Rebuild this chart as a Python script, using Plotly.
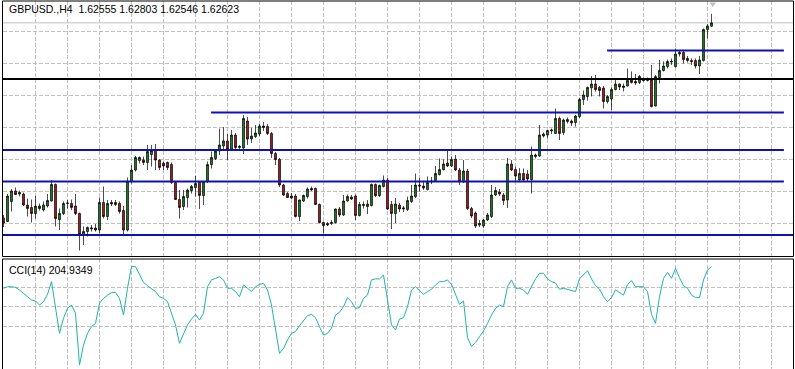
import plotly.graph_objects as go

bars = list(range(178))

open_ = [
1.5872, 1.5865, 1.5905, 1.5926, 1.5920, 1.5920, 1.5898, 1.5893, 1.5881, 1.5896,
1.5888, 1.5896, 1.5906, 1.5939, 1.5869, 1.5881, 1.5901, 1.5901, 1.5896, 1.5881,
1.5838, 1.5845, 1.5850, 1.5852, 1.5848, 1.5903, 1.5875, 1.5900, 1.5903, 1.5901,
1.5887, 1.5848, 1.5945, 1.5968, 1.5987, 1.5988, 1.5983, 1.5999, 1.6007, 1.5988,
1.5982, 1.5983, 1.5979, 1.5943, 1.5909, 1.5895, 1.5913, 1.5927, 1.5933, 1.5944,
1.5917, 1.5945, 1.5979, 1.5991, 1.6006, 1.6016, 1.6026, 1.6010, 1.6038, 1.6013,
1.6012, 1.6066, 1.6030, 1.6035, 1.6040, 1.6056, 1.6055, 1.6041, 1.6001, 1.5989,
1.5938, 1.5921, 1.5916, 1.5916, 1.5875, 1.5906, 1.5915, 1.5931, 1.5931, 1.5899,
1.5863, 1.5861, 1.5861, 1.5863, 1.5890, 1.5878, 1.5906, 1.5914, 1.5916, 1.5877,
1.5897, 1.5895, 1.5897, 1.5939, 1.5917, 1.5935, 1.5948, 1.5899, 1.5881, 1.5898,
1.5890, 1.5889, 1.5905, 1.5915, 1.5938, 1.5936, 1.5929, 1.5944, 1.5947, 1.5959,
1.5969, 1.5982, 1.5976, 1.5990, 1.5968, 1.5944, 1.5966, 1.5891, 1.5882, 1.5858,
1.5856, 1.5868, 1.5875, 1.5918, 1.5924, 1.5918, 1.5908, 1.5980, 1.5969, 1.5948,
1.5961, 1.5960, 1.5949, 1.5995, 1.5996, 1.6036, 1.6038, 1.6046, 1.6041, 1.6071,
1.6043, 1.6065, 1.6066, 1.6063, 1.6075, 1.6109, 1.6115, 1.6132, 1.6140, 1.6133,
1.6132, 1.6105, 1.6110, 1.6129, 1.6140, 1.6133, 1.6136, 1.6148, 1.6145, 1.6143,
1.6149, 1.6147, 1.6148, 1.6096, 1.6153, 1.6167, 1.6175, 1.6184, 1.6175, 1.6200,
1.6203, 1.6191, 1.6187, 1.6187, 1.6176, 1.6187, 1.6249, 1.62555]

high = [
1.5878, 1.5920, 1.5930, 1.5933, 1.5927, 1.5923, 1.5911, 1.5909, 1.5916, 1.5901,
1.5905, 1.5920, 1.5948, 1.5941, 1.5891, 1.5905, 1.5908, 1.5909, 1.5920, 1.5883,
1.5855, 1.5855, 1.5858, 1.5860, 1.5913, 1.5935, 1.5908, 1.5908, 1.5908, 1.5905,
1.5896, 1.5953, 1.5978, 1.5996, 1.5995, 1.5995, 1.6018, 1.6018, 1.6020, 1.5989,
1.5985, 1.5985, 1.5983, 1.5945, 1.5928, 1.5928, 1.5931, 1.5938, 1.5956, 1.5945,
1.5946, 1.5985, 1.6005, 1.6008, 1.6051, 1.6054, 1.6040, 1.6048, 1.6042, 1.6018,
1.6078, 1.6074, 1.6052, 1.6058, 1.6060, 1.6064, 1.6060, 1.6044, 1.6004, 1.5992,
1.5940, 1.5924, 1.5922, 1.5920, 1.5909, 1.5919, 1.5933, 1.5935, 1.5933, 1.5901,
1.5865, 1.5864, 1.5868, 1.5891, 1.5894, 1.5918, 1.5919, 1.5918, 1.5919, 1.5904,
1.5905, 1.5908, 1.5941, 1.5941, 1.5939, 1.5957, 1.5952, 1.5906, 1.5912, 1.5902,
1.5896, 1.5915, 1.5938, 1.5961, 1.5952, 1.5945, 1.5955, 1.5954, 1.5976, 1.5991,
1.5989, 1.6007, 1.5995, 1.5998, 1.5972, 1.5988, 1.5970, 1.5894, 1.5885, 1.5868,
1.5870, 1.5882, 1.5938, 1.5934, 1.5930, 1.5922, 1.5992, 1.5988, 1.5975, 1.5972,
1.5971, 1.5968, 1.6015, 1.6001, 1.6058, 1.6043, 1.6048, 1.6051, 1.6091, 1.6075,
1.6071, 1.6073, 1.6069, 1.6078, 1.6112, 1.6127, 1.6135, 1.6156, 1.6158, 1.6136,
1.6136, 1.6118, 1.6133, 1.6148, 1.6141, 1.6141, 1.6171, 1.6165, 1.6160, 1.6158,
1.6153, 1.6153, 1.6178, 1.6158, 1.6188, 1.6185, 1.6189, 1.6191, 1.6211, 1.6208,
1.6208, 1.6196, 1.6191, 1.6191, 1.6196, 1.6251, 1.6260, 1.62803]

low = [
1.5854, 1.5864, 1.5885, 1.5918, 1.5915, 1.5896, 1.5875, 1.5863, 1.5871, 1.5887,
1.5885, 1.5893, 1.5905, 1.5855, 1.5848, 1.5878, 1.5891, 1.5888, 1.5878, 1.5807,
1.5818, 1.5835, 1.5845, 1.5845, 1.5841, 1.5871, 1.5868, 1.5896, 1.5896, 1.5881,
1.5838, 1.5845, 1.5941, 1.5965, 1.5981, 1.5978, 1.5968, 1.5975, 1.5968, 1.5968,
1.5968, 1.5968, 1.5940, 1.5908, 1.5871, 1.5888, 1.5893, 1.5921, 1.5915, 1.5890,
1.5898, 1.5942, 1.5971, 1.5988, 1.5998, 1.6008, 1.5988, 1.6006, 1.6010, 1.6008,
1.6000, 1.6018, 1.6022, 1.6032, 1.6036, 1.6046, 1.6038, 1.5992, 1.5978, 1.5934,
1.5916, 1.5912, 1.5910, 1.5873, 1.5866, 1.5904, 1.5911, 1.5926, 1.5898, 1.5861,
1.5841, 1.5856, 1.5858, 1.5861, 1.5874, 1.5876, 1.5905, 1.5908, 1.5868, 1.5875,
1.5891, 1.5880, 1.5895, 1.5914, 1.5914, 1.5933, 1.5888, 1.5850, 1.5862, 1.5884,
1.5884, 1.5886, 1.5902, 1.5912, 1.5925, 1.5928, 1.5927, 1.5940, 1.5945, 1.5957,
1.5967, 1.5974, 1.5974, 1.5966, 1.5938, 1.5942, 1.5888, 1.5872, 1.5852, 1.5854,
1.5852, 1.5866, 1.5872, 1.5916, 1.5916, 1.5898, 1.5892, 1.5966, 1.5945, 1.5946,
1.5946, 1.5946, 1.5921, 1.5991, 1.5994, 1.6033, 1.6031, 1.6040, 1.6040, 1.6028,
1.6038, 1.6061, 1.6056, 1.6055, 1.6072, 1.6098, 1.6107, 1.6115, 1.6125, 1.6115,
1.6091, 1.6101, 1.6088, 1.6127, 1.6128, 1.6125, 1.6135, 1.6141, 1.6138, 1.6140,
1.6145, 1.6145, 1.6093, 1.6095, 1.6141, 1.6165, 1.6171, 1.6178, 1.6173, 1.6195,
1.6181, 1.6183, 1.6178, 1.6171, 1.6160, 1.6185, 1.6231, 1.62546]

close = [
1.5862, 1.5916, 1.5926, 1.5919, 1.5923, 1.5898, 1.5891, 1.5881, 1.5896, 1.5891,
1.5898, 1.5907, 1.5939, 1.5871, 1.5881, 1.5901, 1.5902, 1.5893, 1.5881, 1.5839,
1.5845, 1.5853, 1.5852, 1.5848, 1.5903, 1.5875, 1.5901, 1.5903, 1.5899, 1.5885,
1.5848, 1.5945, 1.5968, 1.5993, 1.5993, 1.5983, 1.6005, 1.6007, 1.5988, 1.5973,
1.5976, 1.5973, 1.5943, 1.5909, 1.5893, 1.5915, 1.5928, 1.5935, 1.5941, 1.5917,
1.5945, 1.5979, 1.5993, 1.6006, 1.6018, 1.6026, 1.6010, 1.6038, 1.6013, 1.6015,
1.6071, 1.6030, 1.6036, 1.6042, 1.6056, 1.6053, 1.6041, 1.6001, 1.5989, 1.5938,
1.5918, 1.5913, 1.5912, 1.5875, 1.5908, 1.5917, 1.5930, 1.5928, 1.5899, 1.5863,
1.5857, 1.5858, 1.5863, 1.5890, 1.5878, 1.5906, 1.5915, 1.5910, 1.5877, 1.5899,
1.5899, 1.5900, 1.5939, 1.5917, 1.5937, 1.5948, 1.5890, 1.5881, 1.5900, 1.5890,
1.5892, 1.5907, 1.5916, 1.5938, 1.5936, 1.5932, 1.5943, 1.5946, 1.5961, 1.5969,
1.5980, 1.5976, 1.5989, 1.5968, 1.5944, 1.5966, 1.5891, 1.5876, 1.5856, 1.5861,
1.5868, 1.5878, 1.5918, 1.5927, 1.5920, 1.5907, 1.5980, 1.5968, 1.5956, 1.5961,
1.5948, 1.5950, 1.5998, 1.5998, 1.6038, 1.6040, 1.6047, 1.6048, 1.6071, 1.6041,
1.6068, 1.6069, 1.6062, 1.6076, 1.6109, 1.6118, 1.6133, 1.6140, 1.6129, 1.6127,
1.6105, 1.6115, 1.6129, 1.6140, 1.6134, 1.6136, 1.6147, 1.6143, 1.6142, 1.6155,
1.6147, 1.6149, 1.6095, 1.6155, 1.6167, 1.6176, 1.6185, 1.6185, 1.6200, 1.6203,
1.6189, 1.6187, 1.6185, 1.6176, 1.6188, 1.6249, 1.6256, 1.62623]

cci = [
95, 103, 103, 100, 86, 69, 52, 35, 30, 9,
26, 64, 129, 1, -136, -59, -8, 9, -33, -299,
-196, -136, -102, -85, 18, 43, 60, 72, 74, 43,
-42, 95, 206, 206, 163, 125, 108, 95, 78, 52,
43, 26, -33, -93, -187, -136, -93, -63, -39, -68,
-33, 103, 138, 146, 154, 138, 95, 95, 78, 52,
112, 95, 78, 103, 115, 120, 86, 9, -127, -239,
-213, -170, -136, -127, -97, -68, -45, -39, -56, -102,
-145, -136, -110, -42, -28, 1, 47, 26, -8, -4,
43, 60, 138, 143, 143, 163, 43, -93, -119, -63,
-56, 1, 86, 103, 84, 64, 78, 90, 112, 129,
129, 138, 115, 64, 13, 30, -158, -204, -184, -153,
-124, -85, -42, -8, 9, 1, 103, 138, 95, 95,
86, 64, 103, 143, 172, 172, 143, 129, 122, 90,
95, 88, 83, 78, 143, 163, 185, 143, 108, 91,
52, 26, 47, 86, 72, 60, 115, 134, 103, 103,
103, 78, -39, -85, 52, 146, 177, 146, 197, 149,
108, 95, 60, 47, 47, 138, 189, 204.9349]

symbol_title = "GBPUSD.,H4  1.62555 1.62803 1.62546 1.62623"
cci_title = "CCI(14) 204.9349"

# support / resistance objects drawn on the chart (price, first bar, last bar)
level_prices = [1.6207, 1.6083, 1.6008, 1.5945, 1.5838]
level_first_bar = [150.9, 51.9, -0.5, -0.5, -0.5]
level_last_bar = [195.1, 195.1, 195.1, 195.1, 198.0]
hline_price = 1.6150
bid_price = close[-1]

grid_prices = [1.62446, 1.6181, 1.6117, 1.60532, 1.59894, 1.5926, 1.58616]
grid_bars = list(range(8, 193, 8))
cci_levels = [-100, 0, 100]

W, H = 795, 369
def px(xp):
    return xp / W
def py(yp):
    return 1 - yp / H

X_L, X_R = 2.5, 793.5
MAIN_T, MAIN_B = 1.0, 256.5
CCI_T = 259.0

x_range = [(X_L - 3.5) / 4, (X_R - 3.5) / 4]
price_range = [1.6308 - 0.0002 * MAIN_B, 1.6308 - 0.0002 * MAIN_T]
cci_range = [(306.8 - H) / 0.195, (306.8 - CCI_T) / 0.195]

GRID = "#c0c0c0"
BULL = "#1f7a1f"
BEAR = "#a01e1e"
BLUE = "#1010b8"

fig = go.Figure()

fig.add_trace(go.Candlestick(
    x=bars, open=open_, high=high, low=low, close=close,
    increasing=dict(line=dict(color="black", width=0.7), fillcolor=BULL),
    decreasing=dict(line=dict(color="black", width=0.7), fillcolor=BEAR),
    whiskerwidth=0, xaxis="x", yaxis="y", showlegend=False, hoverinfo="skip"))

fig.add_trace(go.Scatter(
    x=bars, y=cci, mode="lines", line=dict(color="#20b2aa", width=1),
    xaxis="x2", yaxis="y2", showlegend=False, hoverinfo="skip"))

axis_common = dict(showticklabels=False, zeroline=False, showline=False,
                   gridcolor=GRID, gridwidth=1, griddash="4px,2px", fixedrange=True)

fig.update_layout(
    width=W, height=H, margin=dict(l=0, r=0, t=0, b=0),
    paper_bgcolor="white", plot_bgcolor="white",
    showlegend=False, hovermode=False, boxgap=0.3,
    xaxis=dict(domain=[px(X_L), px(X_R)], range=x_range, anchor="y",
               tickvals=grid_bars, ticks="", rangeslider=dict(visible=False), **axis_common),
    yaxis=dict(domain=[py(MAIN_B), py(MAIN_T)], range=price_range, anchor="x",
               side="right", tickvals=grid_prices, ticks="outside", ticklen=2,
               tickcolor="black", **axis_common),
    xaxis2=dict(domain=[px(X_L), px(X_R)], range=x_range, anchor="y2",
                tickvals=grid_bars, ticks="", **axis_common),
    yaxis2=dict(domain=[0, py(CCI_T)], range=cci_range, anchor="x2",
                side="right", tickvals=cci_levels, ticks="outside", ticklen=2,
                tickcolor="black", **axis_common),
)

shapes = []
# bid line
shapes.append(dict(type="line", xref="paper", yref="y", x0=px(X_L), x1=px(X_R),
                   y0=bid_price, y1=bid_price, line=dict(color=GRID, width=1), layer="below"))
# horizontal black line
shapes.append(dict(type="line", xref="paper", yref="y", x0=px(X_L), x1=px(X_R),
                   y0=hline_price, y1=hline_price, line=dict(color="black", width=2), layer="above"))
for p, a, b in zip(level_prices, level_first_bar, level_last_bar):
    shapes.append(dict(type="line", xref="x", yref="y", x0=a, x1=b, y0=p, y1=p,
                       line=dict(color=BLUE, width=2), layer="above"))
# panel borders
shapes.append(dict(type="rect", xref="paper", yref="paper", x0=px(X_L), x1=px(X_R),
                   y0=py(MAIN_B), y1=py(MAIN_T), line=dict(color="black", width=1), layer="above"))
shapes.append(dict(type="path", xref="paper", yref="paper",
                   path=f"M{px(X_L)},0 L{px(X_L)},{py(CCI_T)} L{px(X_R)},{py(CCI_T)} L{px(X_R)},0",
                   line=dict(color="black", width=1), layer="above"))
# chart shift marker
shapes.append(dict(type="path", xref="paper", yref="paper",
                   path=f"M{px(709.5)},{py(2.5)} L{px(716)},{py(2.5)} L{px(712.75)},{py(7)} Z",
                   fillcolor=GRID, line=dict(color=GRID, width=0), layer="above"))
fig.update_layout(shapes=shapes)

FONT = "Liberation Sans"
fig.add_annotation(xref="paper", yref="paper", x=px(7), y=py(9.5), text=symbol_title,
                   showarrow=False, xanchor="left", yanchor="middle",
                   font=dict(family=FONT, size=10.5, color="black"))
fig.add_annotation(xref="paper", yref="paper", x=px(7), y=py(270), text=cci_title,
                   showarrow=False, xanchor="left", yanchor="middle",
                   font=dict(family=FONT, size=10.5, color="black"))

fig.write_html("out.html", config={"displayModeBar": False, "staticPlot": True})

# remove the browser's default page margin so the figure sits at the window origin
with open("out.html", "r", encoding="utf-8") as f:
    html = f.read()
html = html.replace("<head>", "<head><style>html,body{margin:0;padding:0;overflow:hidden;}</style>", 1)
with open("out.html", "w", encoding="utf-8") as f:
    f.write(html)
